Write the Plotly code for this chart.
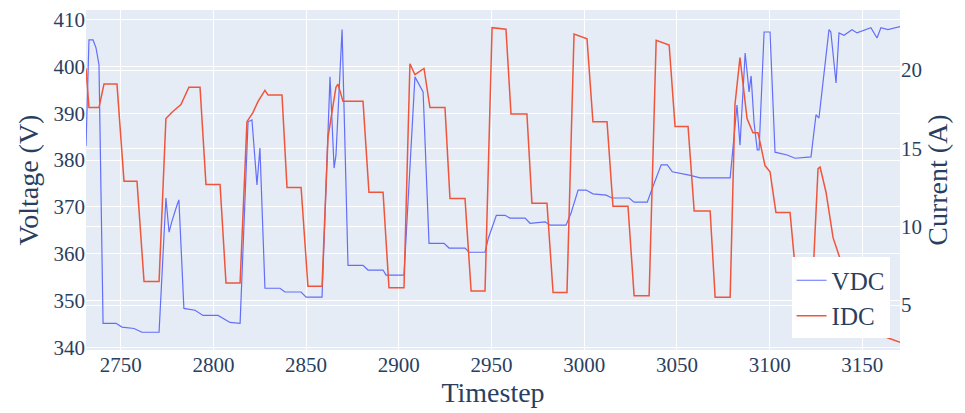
import plotly.graph_objects as go
from plotly.subplots import make_subplots

# VDC series (timestep, volts)
vdc_t = [2731.3, 2732.9, 2735.1, 2736.7, 2738.3, 2740.5, 2747.5, 2750.7, 2757.2, 2761.5,
         2770.7, 2774.4, 2776.1, 2777.7, 2780.4, 2781.4, 2784.1, 2790.1, 2794.4, 2802.5,
         2809.0, 2814.4, 2818.7, 2820.8, 2823.5, 2825.1, 2827.8, 2835.9, 2838.6, 2847.3,
         2850.0, 2858.6, 2862.9, 2865.1, 2866.1, 2869.4, 2872.6, 2880.7, 2883.4, 2891.5,
         2893.1, 2902.8, 2908.7, 2913.1, 2916.3, 2924.4, 2927.1, 2935.7, 2937.9, 2946.5,
         2948.3, 2952.6, 2957.3, 2960.0, 2968.1, 2970.8, 2978.9, 2981.6, 2990.2, 2992.9,
         2996.7, 3001.0, 3004.7, 3011.8, 3015.0, 3024.2, 3026.9, 3034.0, 3036.7, 3041.5,
         3044.8, 3047.5, 3056.6, 3062.5, 3078.7, 3082.4, 3084.0, 3086.8, 3088.9, 3090.0,
         3091.6, 3093.3, 3094.3, 3097.0, 3100.2, 3102.9, 3109.4, 3113.7, 3122.3, 3125.0,
         3126.6, 3132.0, 3133.0, 3135.8, 3137.4, 3140.1, 3144.4, 3147.1, 3154.6, 3157.9,
         3160.0, 3163.8, 3170.9]
vdc_v = [383.0, 405.7, 405.7, 404.0, 400.4, 345.1, 345.1, 344.3, 344.0, 343.2,
         343.2, 371.9, 364.6, 367.0, 370.4, 371.5, 348.3, 347.9, 346.8, 346.8,
         345.3, 345.1, 388.2, 388.6, 374.7, 382.6, 352.6, 352.6, 351.8, 351.8,
         350.7, 350.7, 397.8, 378.3, 381.0, 407.9, 357.5, 357.5, 356.5, 356.5,
         355.4, 355.4, 397.8, 394.6, 362.2, 362.2, 361.2, 361.2, 360.3, 360.3,
         363.3, 368.2, 368.2, 367.6, 367.6, 366.5, 366.8, 366.1, 366.1, 368.7,
         373.6, 373.6, 372.8, 372.5, 371.9, 371.9, 371.0, 371.0, 374.0, 379.0,
         379.0, 377.5, 376.8, 376.2, 376.2, 391.8, 383.2, 402.9, 394.6, 398.0,
         388.0, 382.2, 382.2, 407.4, 407.4, 381.7, 381.1, 380.4, 380.7, 389.7,
         389.0, 407.9, 407.4, 396.5, 407.2, 406.7, 407.9, 407.2, 408.3, 406.1,
         408.3, 407.9, 408.6]

# IDC series (timestep, amps)
idc_t = [2731.3, 2732.9, 2738.3, 2741.0, 2748.0, 2751.8, 2758.8, 2762.6, 2770.7, 2774.4,
         2777.7, 2782.5, 2786.8, 2792.8, 2796.0, 2803.6, 2806.8, 2814.4, 2818.1, 2821.4,
         2824.1, 2827.8, 2829.5, 2837.0, 2839.7, 2847.3, 2851.0, 2858.6, 2861.8, 2866.1,
         2867.2, 2869.9, 2880.7, 2883.9, 2891.5, 2894.7, 2902.8, 2906.0, 2908.7, 2913.6,
         2916.8, 2924.9, 2927.6, 2935.7, 2939.0, 2946.5, 2950.3, 2957.8, 2960.5, 2969.1,
         2971.8, 2979.9, 2983.2, 2990.7, 2994.5, 3001.5, 3004.7, 3012.3, 3015.5, 3023.6,
         3026.9, 3035.0, 3038.8, 3045.8, 3049.0, 3056.0, 3059.3, 3067.9, 3070.6, 3078.7,
         3081.3, 3084.0, 3087.8, 3091.0, 3093.7, 3097.5, 3100.2, 3103.4, 3111.0, 3115.3,
         3122.8, 3126.1, 3127.2, 3130.4, 3134.2, 3136.9, 3140.7, 3146.1, 3154.2, 3163.9,
         3170.9]
idc_a = [20.1, 17.6, 17.6, 19.1, 19.1, 12.9, 12.9, 6.5, 6.5, 16.9,
         17.3, 17.8, 18.9, 18.9, 12.7, 12.7, 6.4, 6.4, 16.7, 17.3,
         18.0, 18.7, 18.4, 18.4, 12.5, 12.5, 6.2, 6.2, 15.7, 18.9,
         19.1, 18.0, 18.0, 12.2, 12.2, 6.1, 6.1, 20.4, 19.7, 20.1,
         17.6, 17.6, 11.8, 11.8, 5.9, 5.9, 22.7, 22.6, 17.2, 17.2,
         11.5, 11.5, 5.8, 5.8, 22.3, 22.0, 16.7, 16.7, 11.3, 11.3,
         5.6, 5.6, 21.9, 21.6, 16.4, 16.4, 11.0, 11.0, 5.5, 5.5,
         17.8, 20.8, 16.9, 16.0, 16.0, 13.9, 13.5, 10.9, 10.9, 5.4,
         5.4, 13.7, 13.8, 12.2, 9.3, 8.4, 7.0, 5.0, 3.4, 2.9,
         2.6]

x_ticks = [2750, 2800, 2850, 2900, 2950, 3000, 3050, 3100, 3150]
v_ticks = [340, 350, 360, 370, 380, 390, 400, 410]
i_ticks = [5, 10, 15, 20]

FONT = "Liberation Serif, Times New Roman, serif"

fig = make_subplots(specs=[[{"secondary_y": True}]])
fig.add_trace(go.Scatter(x=vdc_t, y=vdc_v, mode="lines", name="VDC",
                         line=dict(color="#636efa", width=1.2)), secondary_y=False)
fig.add_trace(go.Scatter(x=idc_t, y=idc_a, mode="lines", name="IDC",
                         line=dict(color="#EF553B", width=1.5)), secondary_y=True)

# the page body adds an 8px offset, so the figure is sized to fit the window
fig.update_layout(
    width=957, height=405,
    margin=dict(l=78, r=65, t=2, b=63),
    template="plotly",
    font=dict(family=FONT, size=21, color="#2a3f5f"),
    legend=dict(x=0.927, y=0.153, xanchor="center", yanchor="middle",
                bgcolor="white", font=dict(size=25, family=FONT),
                itemwidth=30, tracegroupgap=0),
    showlegend=True,
)
fig.update_xaxes(range=[2731.3, 3170.3], tickvals=x_ticks, automargin=False,
                 domain=[0, 1],
                 title=dict(text="Timestep", font=dict(size=28, family=FONT), standoff=0))
fig.update_yaxes(range=[339.4, 412.1], tickvals=v_ticks, automargin=False,
                 title=dict(text="Voltage (V)", font=dict(size=28, family=FONT), standoff=6),
                 secondary_y=False)
fig.update_yaxes(range=[2.13, 23.83], tickvals=i_ticks, automargin=False,
                 title=dict(text="Current (A)", font=dict(size=28, family=FONT), standoff=6),
                 secondary_y=True)

fig.write_html("out.html")
